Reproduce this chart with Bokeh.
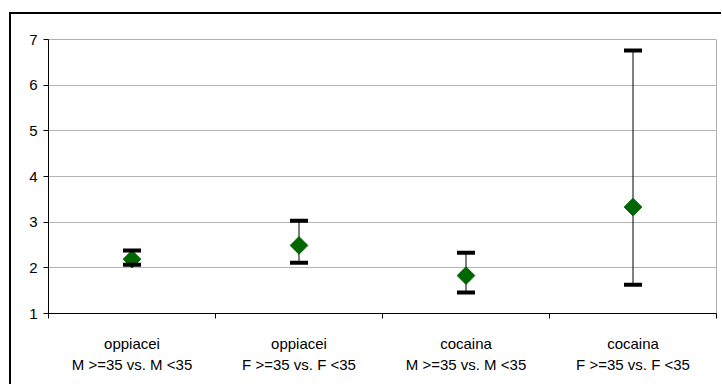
from bokeh.plotting import figure
from bokeh.layouts import column
from bokeh.models import Range1d, FixedTicker, LinearAxis, ColumnDataSource
from bokeh.embed import file_html
from bokeh.resources import INLINE

# ---- data ----
substances = ["oppiacei", "oppiacei", "cocaina", "cocaina"]
comparisons = ["M >=35 vs. M <35", "F >=35 vs. F <35", "M >=35 vs. M <35", "F >=35 vs. F <35"]
estimate = [2.19, 2.49, 1.83, 3.33]
lower = [2.07, 2.11, 1.46, 1.63]
upper = [2.38, 3.03, 2.33, 6.76]
y_ticks = [1, 2, 3, 4, 5, 6, 7]

n = len(estimate)
xs = [i + 0.5 for i in range(n)]
src = ColumnDataSource(dict(x=xs, est=estimate, lo=lower, hi=upper))

FONT = "Liberation Sans"
FS = "15px"

p = figure(width=710, height=370, output_backend="svg", toolbar_location=None,
           x_range=Range1d(0, n), y_range=Range1d(1, 7),
           x_axis_type=None, y_axis_location="left",
           min_border_left=37, min_border_top=25, min_border_right=5, min_border_bottom=71)
p.background_fill_color = "white"
p.border_fill_color = "white"
p.outline_line_color = "#b0b0b0"
p.outline_line_width = 1

# y axis
ya = p.yaxis[0]
ya.ticker = FixedTicker(ticks=y_ticks)
ya.axis_line_color = "black"
ya.major_tick_out = 5
ya.major_tick_in = 0
ya.minor_tick_line_color = None
ya.major_label_standoff = 6
ya.major_label_text_font = FONT
ya.major_label_text_font_size = FS
ya.major_label_text_color = "black"
p.ygrid.ticker = FixedTicker(ticks=y_ticks)
p.ygrid.grid_line_color = "#b4b4b4"
p.xgrid.visible = False

# x axis: boundary ticks + first label line
ax1 = LinearAxis(ticker=FixedTicker(ticks=xs, minor_ticks=list(range(n + 1))))
ax1.major_label_overrides = {x: s for x, s in zip(xs, substances)}
ax1.axis_line_color = "black"
ax1.major_tick_line_color = None
ax1.major_tick_out = 0
ax1.major_tick_in = 0
ax1.minor_tick_line_color = "black"
ax1.minor_tick_out = 5
ax1.minor_tick_in = 0
ax1.major_label_standoff = 16
ax1.major_label_text_font = FONT
ax1.major_label_text_font_size = FS
ax1.major_label_text_color = "black"
p.add_layout(ax1, "below")

# second label line
ax2 = LinearAxis(ticker=FixedTicker(ticks=xs))
ax2.major_label_overrides = {x: s for x, s in zip(xs, comparisons)}
ax2.axis_line_color = None
ax2.major_tick_line_color = None
ax2.minor_tick_line_color = None
ax2.major_tick_out = 0
ax2.major_tick_in = 0
ax2.major_label_standoff = 1
ax2.major_label_text_font = FONT
ax2.major_label_text_font_size = FS
ax2.major_label_text_color = "black"
p.add_layout(ax2, "below")

# error bars
p.segment(x0="x", y0="lo", x1="x", y1="hi", source=src, line_color="black", line_width=1)
p.scatter(x="x", y="est", source=src, marker="square", angle=0.7853981634,
          size=12.5, fill_color="#006600", line_color="#006600")
p.rect(x="x", y="hi", width=18, height=4, width_units="screen", height_units="screen",
       source=src, fill_color="black", line_color=None)
p.rect(x="x", y="lo", width=18, height=4, width_units="screen", height_units="screen",
       source=src, fill_color="black", line_color=None)

# outer chart border (left and top edges visible in the window)
layout = column(p, styles={"border-left": "2px solid black", "border-top": "2px solid black",
                           "margin-left": "9px", "margin-top": "12px"})

open("out.html", "w").write(file_html(layout, INLINE))
